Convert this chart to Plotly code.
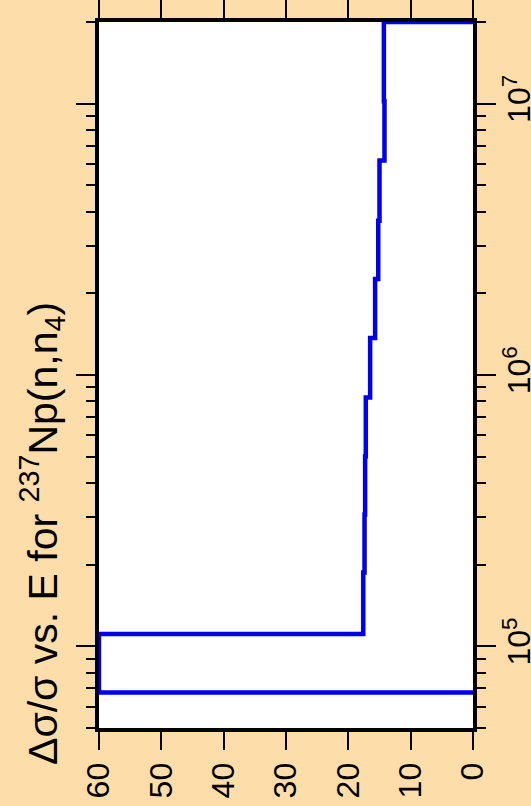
import plotly.graph_objects as go

# Energy group boundaries (eV) and relative uncertainty per group (%)
energy_bounds = [6.76e4, 1.11e5, 1.87e5, 3.06e5, 5.02e5, 8.26e5, 1.37e6,
                 2.26e6, 3.70e6, 6.17e6, 1.02e7, 2.0e7]
rel_unc = [60.0, 17.6, 17.4, 17.3, 17.2, 16.5, 15.7, 15.2, 15.0, 14.2, 14.3]

x_ticks = [0, 10, 20, 30, 40, 50, 60]
y_major = [1e5, 1e6, 1e7]
y_major_text = ["10<sup>5</sup>", "10<sup>6</sup>", "10<sup>7</sup>"]
y_minor = [5e4, 6e4, 7e4, 8e4, 9e4,
           2e5, 3e5, 4e5, 5e5, 6e5, 7e5, 8e5, 9e5,
           2e6, 3e6, 4e6, 5e6, 6e6, 7e6, 8e6, 9e6, 2e7]

x_pts = [0.0] + rel_unc + [0.0]
y_pts = [energy_bounds[0]] + energy_bounds[:-1] + [energy_bounds[-1]]

FONT = "Liberation Sans, Arial, Helvetica, sans-serif"

fig = go.Figure()
fig.add_trace(go.Scatter(x=x_pts, y=y_pts, mode="lines", line_shape="vh",
                         line=dict(color="#0000EE", width=4.5),
                         showlegend=False, hoverinfo="skip"))

fig.update_layout(
    width=531, height=806,
    margin=dict(l=99, r=58, t=22, b=78),
    paper_bgcolor="#FDDEAB",
    plot_bgcolor="white",
    font=dict(family=FONT, color="black"),
    showlegend=False,
    xaxis=dict(
        range=[60, 0], tickvals=x_ticks, ticktext=[str(v) for v in x_ticks],
        tickangle=-90, tickfont=dict(size=32, family=FONT),
        ticks="outside", ticklen=18, tickwidth=2, tickcolor="black",
        showline=True, linewidth=4, linecolor="black", mirror="ticks",
        showgrid=False, zeroline=False, automargin=False,
    ),
    yaxis=dict(
        type="log", range=[4.69897, 7.30103], side="right",
        tickmode="array", tickvals=y_major, ticktext=y_major_text,
        tickangle=-90, tickfont=dict(size=32, family=FONT),
        ticklabelstandoff=-4,
        ticks="outside", ticklen=19, tickwidth=2, tickcolor="black",
        minor=dict(tickmode="array", tickvals=y_minor, ticks="outside",
                   ticklen=9, tickwidth=2, tickcolor="black", showgrid=False),
        showline=True, linewidth=4, linecolor="black", mirror="ticks",
        showgrid=False, zeroline=False, automargin=False,
    ),
)

fig.add_annotation(
    text="\u0394\u03c3/\u03c3 vs. E for <sup>237</sup>Np(n,n<sub>4</sub>)",
    xref="paper", yref="paper", x=-0.152, y=0.275,
    xanchor="center", yanchor="middle", textangle=-90, showarrow=False,
    font=dict(size=41, family=FONT, color="black"),
)

fig.write_html(
    "out.html",
    config={"displayModeBar": False},
    post_script="document.body.style.margin='0';document.body.style.overflow='hidden';",
)
